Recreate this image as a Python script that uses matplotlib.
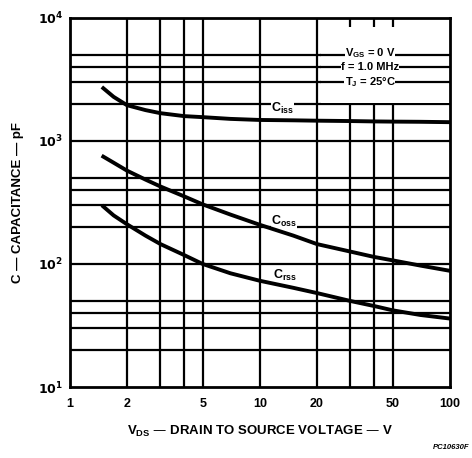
import matplotlib
matplotlib.use("Agg")
import matplotlib.pyplot as plt
from matplotlib.patches import Rectangle

plt.rcParams['font.family'] = ['Liberation Sans', 'DejaVu Sans']
plt.rcParams['font.weight'] = 'bold'

# curve values
vds = [1.5, 1.7, 2, 2.5, 3, 4, 5, 7, 10, 15, 20, 30, 40, 50, 70, 100]
ciss = [2680, 2280, 1950, 1780, 1680, 1590, 1560, 1510, 1480, 1470, 1460, 1450, 1440, 1435, 1430, 1420]
coss = [745, 665, 573, 485, 426, 354, 305, 252, 208, 170, 145, 126, 114, 107, 97, 88]
crss = [293, 248, 210, 170, 145, 118, 100, 84, 73, 64, 58, 50, 45.5, 42, 38.5, 36]

x_ticks = [1, 2, 5, 10, 20, 50, 100]
x_grid = [2, 3, 4, 5, 10, 20, 30, 40, 50]
y_grid = [20, 30, 40, 50, 100, 200, 300, 400, 500, 1000, 2000, 3000, 4000, 5000]
y_ticks = [10, 100, 1000, 10000]
y_labels = [r'$\mathbf{10^1}$', r'$\mathbf{10^2}$', r'$\mathbf{10^3}$', r'$\mathbf{10^4}$']

fig = plt.figure(figsize=(4.72, 4.58), dpi=100)
ax = fig.add_axes([0.148, 0.155, 0.805, 0.806])
ax.set_xscale('log')
ax.set_yscale('log')
ax.set_xlim(1, 100)
ax.set_ylim(10, 10000)

for x in x_grid:
    ax.axvline(x, color='black', lw=1.6, zorder=1)
for y in y_grid:
    ax.axhline(y, color='black', lw=1.6, zorder=1)

# blank area for the test conditions
ax.add_patch(Rectangle((21, 2050), 79, 6300, facecolor='white', edgecolor='none', zorder=2))
for y in [3000, 4000, 5000]:
    ax.plot([21, 100], [y, y], color='black', lw=1.6, zorder=3)

box = dict(facecolor='white', edgecolor='none', pad=0.1)
cond = [(5150, r'V$_{\mathregular{GS}}$ = 0 V'), (4000, 'f = 1.0 MHz'), (3000, r'T$_{\mathregular{J}}$ = 25°C')]
for y, s in cond:
    ax.text(38, y, s, ha='center', va='center', fontsize=8, fontweight='bold', bbox=box, zorder=4)

ax.plot(vds, ciss, color='black', lw=2.8, zorder=5)
ax.plot(vds, coss, color='black', lw=2.8, zorder=5)
ax.plot(vds, crss, color='black', lw=2.8, zorder=5)

ax.text(11.5, 1850, r'C$_{\mathregular{iss}}$', fontsize=9, fontweight='bold', va='center', bbox=box, zorder=4)
ax.text(11.5, 222, r'C$_{\mathregular{oss}}$', fontsize=9, fontweight='bold', va='center', bbox=box, zorder=4)
ax.text(11.8, 80, r'C$_{\mathregular{rss}}$', fontsize=9, fontweight='bold', va='center', bbox=box, zorder=4)

for s in ax.spines.values():
    s.set_linewidth(2)
    s.set_zorder(6)

ax.set_xticks(x_ticks)
ax.set_xticklabels([str(v) for v in x_ticks], fontsize=9, fontweight='bold')
ax.set_xticks([], minor=True)
ax.set_yticks(y_ticks)
ax.set_yticklabels(y_labels, fontsize=9)
ax.set_yticks([], minor=True)
ax.tick_params(length=0, pad=8)
ax.tick_params(axis='y', pad=5)

ax.set_xlabel(r'V$_{\mathregular{DS}}$ — DRAIN TO SOURCE VOLTAGE — V', fontsize=9.5, fontweight='bold', labelpad=10)
ax.set_ylabel('C — CAPACITANCE — pF', fontsize=9.5, fontweight='bold', labelpad=10)

fig.text(0.995, 0.015, 'PC10630F', ha='right', va='bottom', fontsize=5.5, style='italic')

fig.savefig('out.png', dpi=100)
